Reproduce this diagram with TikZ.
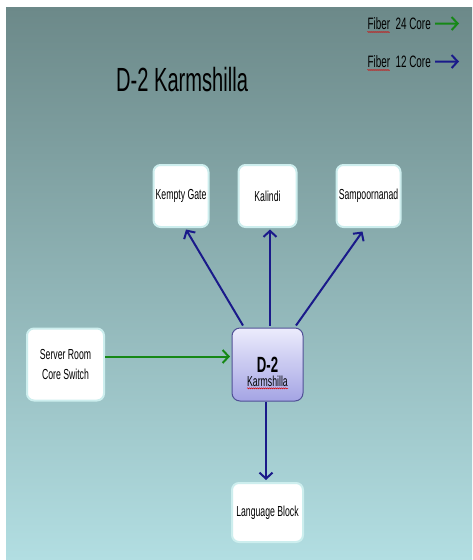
\documentclass[tikz,border=0pt]{standalone}
\usepackage{fontspec}
\setmainfont{Liberation Sans}[FakeStretch=0.6]
\usetikzlibrary{arrows.meta,positioning,decorations.pathmorphing}

\definecolor{navyline}{RGB}{26,26,138}
\definecolor{greenline}{RGB}{22,136,22}
\definecolor{bgtop}{RGB}{108,137,137}
\definecolor{bgbottom}{RGB}{178,222,226}
\definecolor{glow}{RGB}{205,238,238}
\definecolor{hubtop}{RGB}{236,236,252}
\definecolor{hubbottom}{RGB}{164,164,228}
\definecolor{hubedge}{RGB}{80,80,150}

\begin{document}
\begin{tikzpicture}[x=1pt,y=-1pt,
    site/.style={draw=glow,line width=2pt,fill=white,rounded corners=7pt,
      font=\fontsize{14.5}{20}\selectfont,align=center,inner sep=0pt},
    hub/.style={draw=hubedge,line width=1pt,top color=hubtop,bottom color=hubbottom,
      rounded corners=8pt,minimum width=71pt,minimum height=73pt,inner sep=0pt},
    legend/.style={anchor=base east,inner sep=0pt,font=\fontsize{16.5}{18}\selectfont},
    fiber/.style={line width=2pt,-{Straight Barb[length=6pt,width=13pt]}},
    core12/.style={fiber,draw=navyline},
    core24/.style={fiber,draw=greenline},
    spell/.style={draw=red!85!black,line width=0.4pt,decorate,
      decoration={snake,amplitude=0.6pt,segment length=2pt}}]
  \useasboundingbox (0,0) rectangle (472,560);
  \fill[white] (0,0) rectangle (472,560);
  \shade[top color=bgtop,bottom color=bgbottom] (6,7) rectangle (472,560);

  \node (title) [anchor=base west,inner sep=0pt] at (116,91) {\fontsize{33.5}{36}\selectfont D-2 Karmshilla};

  % legend
  \node (leg24) [legend] at (431,29.5) {Fiber\ \ 24 Core};
  \node (leg12) [legend] at (431,67.5) {Fiber\ \ 12 Core};
  \coordinate (leg24end) at (459,23.5);
  \coordinate (leg12end) at (459,61.5);
  \draw[core24] ([xshift=4pt]leg24.east) -- (leg24end);
  \draw[core12] ([xshift=4pt]leg12.east) -- (leg12end);
  \foreach \leg in {leg24,leg12}
    \draw[spell] ([yshift=-2.5pt]\leg.base west) -- ++(22.6,0);

  % sites
  \node (d2) [hub] at (267.5,364.5) {};
  \node (d2code) [anchor=base,inner sep=0pt,font=\fontsize{22}{24}\selectfont\bfseries]
    at ([yshift=-45pt]d2.north) {D-2};
  \node (d2name) [anchor=base,inner sep=0pt,font=\fontsize{14.5}{16}\selectfont]
    at ([yshift=-59pt]d2.north) {Karmshilla};
  \draw[spell] ([yshift=-1.5pt]d2name.south west) -- ([yshift=-1.5pt]d2name.south east);

  \node (kal) [site,minimum width=58pt,minimum height=62pt,above=99.5pt of d2] {Kalindi};
  \node (kempty) [site,minimum width=55pt,minimum height=62pt,left=28pt of kal] {Kempty Gate};
  \node (samp) [site,minimum width=64pt,minimum height=62pt,right=38pt of kal] {Sampoornanad};
  \node (srv) [site,minimum width=77pt,minimum height=72pt,left=126.5pt of d2] {Server Room\\Core Switch};
  \node (lang) [site,minimum width=71pt,minimum height=59pt,below=80.5pt of d2] {Language Block};

  % links
  \draw[core24] ([yshift=8pt]srv.east) -- ([xshift=-1.5pt,yshift=8pt]d2.west);
  \draw[core12] ([xshift=-24.5pt,yshift=2pt]d2.north) -- ([xshift=5pt,yshift=-1.5pt]kempty.south);
  \draw[core12] ([xshift=2.5pt,yshift=2pt]d2.north) -- ([xshift=2.5pt,yshift=-1.5pt]kal.south);
  \draw[core12] ([xshift=28.5pt,yshift=2pt]d2.north) -- ([xshift=-6pt,yshift=-3.5pt]samp.south);
  \draw[core12] ([xshift=-1.5pt]d2.south) -- ([xshift=-1.5pt,yshift=2pt]lang.north);
\end{tikzpicture}
\end{document}
